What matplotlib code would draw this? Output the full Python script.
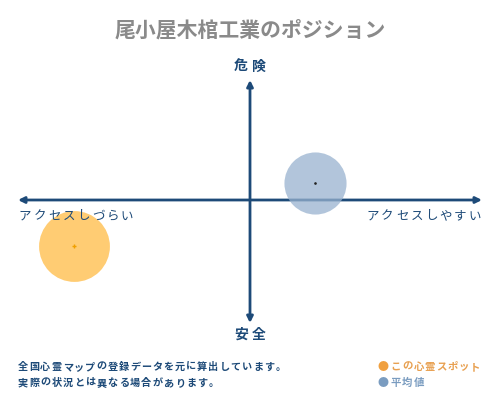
import matplotlib
matplotlib.use('Agg')
import matplotlib.pyplot as plt

plt.rcParams['font.family'] = ['Noto Sans CJK JP', 'DejaVu Sans']

# Data
title = '尾小屋木棺工業のポジション'
spot_x, spot_y = -7.6, -3.8      # この心霊スポット
avg_x, avg_y = 2.8, 1.4          # 平均値
spot_size = 2600
avg_size = 2000
note_lines = ['全国心霊マップの登録データを元に算出しています。',
              '実際の状況とは異なる場合があります。']
legend_labels = ['この心霊スポット', '平均値']

navy = '#1d4a78'
orange = '#ffc35a'
blue = '#98b2cf'

fig = plt.figure(figsize=(5, 4), dpi=100)
ax = fig.add_axes([18 / 500, 77 / 400, 464 / 500, 243 / 400])
ax.set_xlim(-10, 10)
ax.set_ylim(-10.25, 10)
ax.axis('off')

# axes arrows
arrow = dict(arrowstyle='<|-|>', color=navy, lw=2, mutation_scale=9, shrinkA=0, shrinkB=0)
ax.annotate('', xy=(10, 0), xytext=(-10, 0), arrowprops=arrow)
ax.annotate('', xy=(0, 10), xytext=(0, -10.25), arrowprops=arrow)

# bubbles
ax.scatter([spot_x], [spot_y], s=spot_size, color=orange, alpha=0.85, lw=0, zorder=3)
ax.scatter([spot_x], [spot_y], s=8, color='#f0a000', marker='+', lw=1, zorder=4)
ax.scatter([avg_x], [avg_y], s=avg_size, color=blue, alpha=0.75, lw=0, zorder=3)
ax.scatter([avg_x], [avg_y], s=0.8, color='#222222', zorder=4)


def spaced(x, y, s, pitch, ha='left', **kw):
    # draw characters one by one with fixed pitch (pixels)
    if ha == 'right':
        x = x - pitch * (len(s) - 1)
    elif ha == 'center':
        x = x - pitch * (len(s) - 1) / 2
    for i, ch in enumerate(s):
        fig.text((x + i * pitch) / 500, 1 - y / 400, ch, ha='center', va='center', **kw)


fig.text(0.5, 1 - 30 / 400, title, ha='center', va='center', fontsize=15,
         color='#8a8a8a', fontweight='bold')
spaced(250, 67, '危険', 18, ha='center', fontsize=10, color=navy, fontweight='bold')
spaced(250, 335, '安全', 18, ha='center', fontsize=10, color=navy, fontweight='bold')
spaced(25, 216, 'アクセスしづらい', 14.6, fontsize=9, color=navy)
spaced(475, 216, 'アクセスしやすい', 14.6, ha='right', fontsize=9, color=navy)

spaced(23, 367, note_lines[0], 11.2, fontsize=7.3, color=navy, fontweight='bold')
spaced(23, 383, note_lines[1], 11.2, fontsize=7.3, color=navy, fontweight='bold')

fig.text(383 / 500, 1 - 367 / 400, '●', ha='center', va='center', fontsize=8, color='#f0a040')
fig.text(383 / 500, 1 - 383 / 400, '●', ha='center', va='center', fontsize=8, color='#7a9cc0')
spaced(396, 367, legend_labels[0], 11.3, fontsize=7.5, color='#e8a050', fontweight='bold')
spaced(396, 383, legend_labels[1], 11.3, fontsize=7.5, color='#7a9cc0', fontweight='bold')

fig.savefig('out.png', dpi=100)
